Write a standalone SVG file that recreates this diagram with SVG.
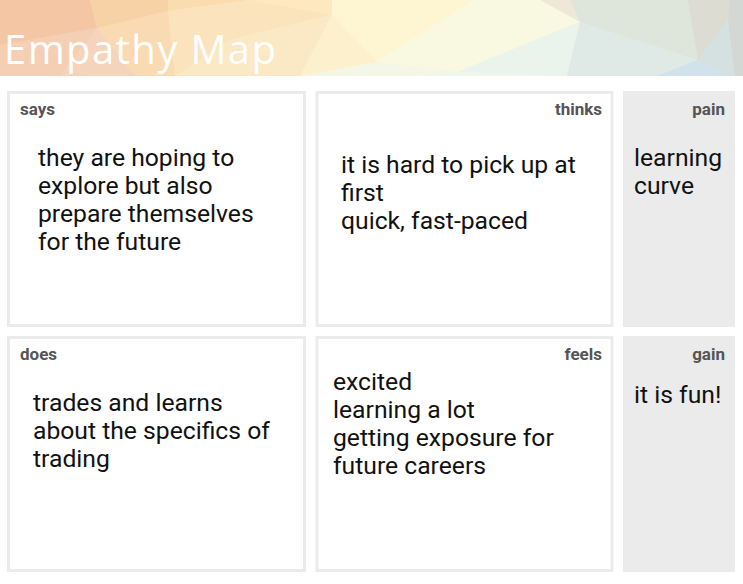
<svg xmlns="http://www.w3.org/2000/svg" width="743" height="584" viewBox="0 0 743 584">
<style>
.box{fill:#ffffff;stroke:#ebebeb;stroke-width:3}
.gbox{fill:#ebebeb}
.lbl{font-family:Roboto,"Liberation Sans",sans-serif;font-weight:700;font-size:17px;fill:#555555}
.body{font-family:Roboto,"Liberation Sans",sans-serif;font-size:24.7px;fill:#111111}
.r{text-anchor:end}
</style>
<defs>
<linearGradient id="hg" x1="0" y1="0" x2="743" y2="0" gradientUnits="userSpaceOnUse">
<stop offset="0" stop-color="#f5c9a8"/>
<stop offset="0.27" stop-color="#fbe6c0"/>
<stop offset="0.5" stop-color="#fef6d4"/>
<stop offset="0.68" stop-color="#eef4e8"/>
<stop offset="0.84" stop-color="#dde8e3"/>
<stop offset="1" stop-color="#d5dcd9"/>
</linearGradient>
</defs>
<rect width="743" height="584" fill="#ffffff"/>
<g id="header">
<rect x="0" y="0" width="743" height="76" fill="url(#hg)"/>
<polygon points="0,0 90,0 97,28 0,45" fill="#f5c6a3"/>
<polygon points="0,45 97,28 60,76 0,76" fill="#f5cfb4"/>
<polygon points="97,28 135,76 60,76" fill="#f6d3bb"/>
<polygon points="90,0 168,0 168,11 97,28" fill="#f7d2a7"/>
<polygon points="97,28 168,11 175,76 135,76" fill="#f9dab2"/>
<polygon points="168,0 250,0 168,11" fill="#fadcae"/>
<polygon points="168,11 250,0 332,15 230,40 175,76" fill="#fbe4bd"/>
<polygon points="175,76 230,40 332,15 300,76" fill="#fbe8c4"/>
<polygon points="250,0 332,0 332,15" fill="#fde8bf"/>
<polygon points="332,0 473,0 377,62 332,15" fill="#fef6d3"/>
<polygon points="332,15 377,62 300,76" fill="#fdf0cc"/>
<polygon points="473,0 570,0 580,22 457,72 377,62" fill="#f8f9e0"/>
<polygon points="377,62 457,72 420,76 300,76" fill="#f4f6e6"/>
<polygon points="540,0 570,0 580,22" fill="#efe8d8"/>
<polygon points="570,0 688,0 698,60 580,22" fill="#dee6dc"/>
<polygon points="580,22 567,76 457,72" fill="#ebf4ec"/>
<polygon points="457,72 567,76 420,76" fill="#eef6ee"/>
<polygon points="580,22 698,60 657,76 567,76" fill="#dfeae7"/>
<polygon points="698,60 735,76 657,76" fill="#d2e2ec"/>
<polygon points="688,0 730,0 728,18 698,60" fill="#dcdcd3"/>
<polygon points="728,18 735,76 698,60" fill="#d5e0e1"/>
<polygon points="730,0 743,0 743,76 735,76 728,18" fill="#d3d8d5"/>
<text x="4" y="63.5" font-family="'Open Sans','Liberation Sans',sans-serif" font-size="40" font-weight="500" fill="#ffffff" textLength="272" lengthAdjust="spacing">Empathy Map</text>
</g>
<g id="says">
<rect class="box" x="8.5" y="92.5" width="296" height="233"/>
<text class="lbl" x="20" y="115">says</text>
<text class="body"><tspan x="38" y="166">they are hoping to</tspan><tspan x="38" y="194">explore but also</tspan><tspan x="38" y="222">prepare themselves</tspan><tspan x="38" y="250">for the future</tspan></text>
</g>
<g id="thinks">
<rect class="box" x="317" y="92.5" width="295" height="233"/>
<text class="lbl r" x="602" y="115">thinks</text>
<text class="body"><tspan x="341" y="173">it is hard to pick up at</tspan><tspan x="341" y="201">first</tspan><tspan x="341" y="229">quick, fast-paced</tspan></text>
</g>
<g id="pain">
<rect class="gbox" x="623" y="91" width="112" height="236"/>
<text class="lbl r" x="725" y="115">pain</text>
<text class="body"><tspan x="634" y="166">learning</tspan><tspan x="634" y="194">curve</tspan></text>
</g>
<g id="does">
<rect class="box" x="8.5" y="337.5" width="296" height="233"/>
<text class="lbl" x="20" y="360">does</text>
<text class="body"><tspan x="33" y="411">trades and learns</tspan><tspan x="33" y="439">about the specifics of</tspan><tspan x="33" y="467">trading</tspan></text>
</g>
<g id="feels">
<rect class="box" x="317" y="337.5" width="295" height="233"/>
<text class="lbl r" x="602" y="360">feels</text>
<text class="body"><tspan x="333" y="389.5">excited</tspan><tspan x="333" y="417.5">learning a lot</tspan><tspan x="333" y="445.5">getting exposure for</tspan><tspan x="333" y="473.5">future careers</tspan></text>
</g>
<g id="gain">
<rect class="gbox" x="623" y="336" width="112" height="236"/>
<text class="lbl r" x="725" y="360">gain</text>
<text class="body"><tspan x="634" y="403">it is fun!</tspan></text>
</g>
<g id="connectors"/>
</svg>
